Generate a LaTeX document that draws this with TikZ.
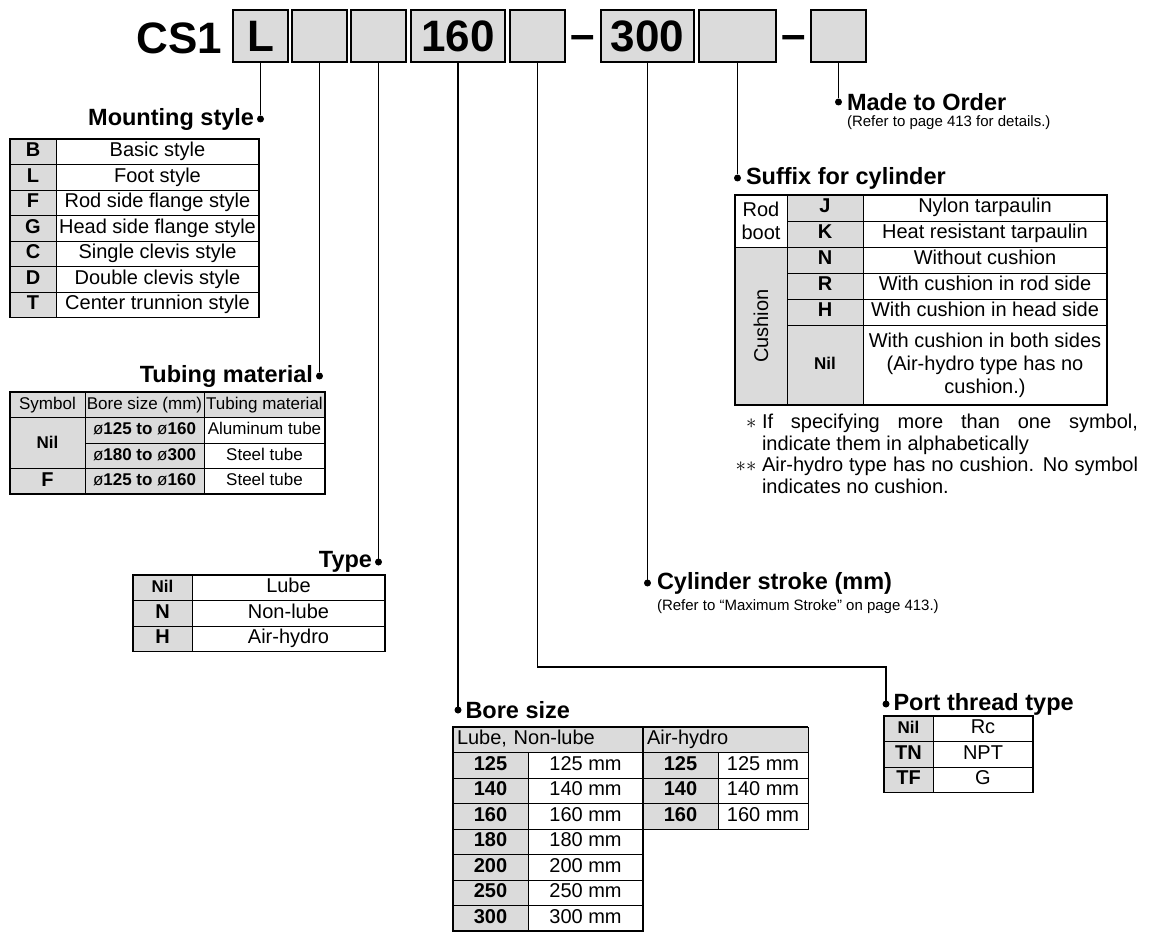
\documentclass[tikz,border=0pt]{standalone}
\usepackage{fontspec}
\usepackage{graphicx}
\setmainfont{Liberation Sans}
\usetikzlibrary{positioning}
\definecolor{cellgray}{gray}{0.86}
\newcommand{\diam}{{\mdseries\fontsize{17}{20}\selectfont ø}}

\begin{document}
\begin{tikzpicture}[x=1pt,y=-1pt,
    every node/.style={inner sep=0pt,outer sep=0pt},
    hbox/.style={draw,line width=1.8pt,fill=cellgray,minimum height=52pt,minimum width=55pt,font=\fontsize{44}{48}\selectfont\bfseries},
    title/.style={font=\fontsize{23.5}{26}\selectfont\bfseries},
    remark/.style={font=\fontsize{15}{18}\selectfont},
    notes/.style={font=\fontsize{20}{22}\selectfont,text width=376pt,align=justify},
    dot/.style={circle,fill,minimum size=7pt},
    leader/.style={line width=1.4pt},
    frame/.style={line width=1.6pt},
    cell/.style={draw,line width=0.8pt,minimum height=25.5pt,text height=14pt,text depth=4pt,font=\fontsize{20}{23}\selectfont},
    gcell/.style={cell,fill=cellgray,font=\fontsize{20}{23}\selectfont\bfseries},
    wcell/.style={cell,fill=white},
    nilcell/.style={gcell,font=\fontsize{17}{20}\selectfont\bfseries},
    multi/.style={text height={},text depth={},align=center},
    thead/.style={cell,fill=cellgray,text height=12pt,text depth=3.5pt,font=\fontsize{17}{20}\selectfont},
    tbore/.style={thead,font=\fontsize{17}{20}\selectfont\bfseries},
    tmat/.style={thead,fill=white},
    bhead/.style={cell,fill=cellgray,align=left,inner xsep=4pt}
]
\useasboundingbox (0,0) rectangle (1149,933);

\node[font=\fontsize{44}{48}\selectfont\bfseries,anchor=east] (cs) at (222,38) {CS1};
\node[hbox] (b1) at (260.5,36) {L};
\node[hbox] (b2) at (319.5,36) {};
\node[hbox] (b3) at (378.5,36) {};
\node[hbox,minimum width=94pt] (b4) at (458,36) {160};
\node[hbox] (b5) at (537.5,36) {};
\node[hbox,minimum width=93pt] (b6) at (647.5,36) {300};
\node[hbox,minimum width=77pt] (b7) at (737.5,36) {};
\node[hbox] (b8) at (838.5,36) {};
\path (b5.east) -- (b6.west) node[midway,yshift=-7pt,font=\fontsize{44}{48}\selectfont\bfseries] (d1) {–};
\path (b7.east) -- (b8.west) node[midway,yshift=-7pt,font=\fontsize{44}{48}\selectfont\bfseries] (d2) {–};

\node[dot] (pMount) at (260.5,119) {};
\node[dot] (pTube) at (319.5,376) {};
\node[dot] (pType) at (378.5,562) {};
\node[dot] (pBore) at (458,710) {};
\node[dot] (pPort) at (886,704) {};
\node[dot] (pStroke) at (647.5,583) {};
\node[dot] (pSuffix) at (737.5,178) {};
\node[dot] (pMade) at (838.5,102) {};
\coordinate (kPort) at (537.5,667);
\draw[leader] (b1) -- (pMount);
\draw[leader] (b2) -- (pTube);
\draw[leader] (b3) -- (pType);
\draw[leader] (b4) -- (pBore);
\draw[leader] (b5) -- (kPort) -| (pPort);
\draw[leader] (b6) -- (pStroke);
\draw[leader] (b7) -- (pSuffix);
\draw[leader] (b8) -- (pMade);

\node[title,left=3pt of pMount] (tMount) {Mounting style};
\node[title,left=3pt of pTube] (tTube) {Tubing material};
\node[title,left=3pt of pType] (tType) {Type};
\node[title,right=4pt of pBore] (tBore) {Bore size};
\node[title,right=4pt of pPort] (tPort) {Port thread type};
\node[title,right=6pt of pStroke] (tStroke) {Cylinder stroke (mm)};
\node[title,right=5pt of pSuffix] (tSuffix) {Suffix for cylinder};
\node[title,right=5pt of pMade] (tMade) {Made to Order};
\node[remark,below right=5pt and 0pt of tMade.south west] (nMade) {(Refer to page 413 for details.)};
\node[remark,below right=6pt and 0pt of tStroke.south west] (nStroke) {(Refer to “Maximum Stroke” on page 413.)};

\node[gcell,minimum width=46pt] (mB) at (33,151.75) {B};
\node[wcell,minimum width=203pt,right=0pt of mB] (tB) {Basic style};
\node[gcell,minimum width=46pt,below=0pt of mB] (mL) {L};
\node[wcell,minimum width=203pt,right=0pt of mL] (tL) {Foot style};
\node[gcell,minimum width=46pt,below=0pt of mL] (mF) {F};
\node[wcell,minimum width=203pt,right=0pt of mF] (tF) {Rod side flange style};
\node[gcell,minimum width=46pt,below=0pt of mF] (mG) {G};
\node[wcell,minimum width=203pt,right=0pt of mG] (tG) {Head side flange style};
\node[gcell,minimum width=46pt,below=0pt of mG] (mC) {C};
\node[wcell,minimum width=203pt,right=0pt of mC] (tC) {Single clevis style};
\node[gcell,minimum width=46pt,below=0pt of mC] (mD) {D};
\node[wcell,minimum width=203pt,right=0pt of mD] (tD) {Double clevis style};
\node[gcell,minimum width=46pt,below=0pt of mD] (mT) {T};
\node[wcell,minimum width=203pt,right=0pt of mT] (tT) {Center trunnion style};
\draw[frame] (mB.north west) rectangle (tT.south east);

\node[thead,minimum width=75pt] (hSym) at (47.5,404.75) {Symbol};
\node[thead,minimum width=119pt,right=0pt of hSym] (hBore) {Bore size (mm)};
\node[thead,minimum width=121pt,right=0pt of hBore] (hMat) {Tubing material};
\node[nilcell,minimum width=75pt,minimum height=51pt,below=0pt of hSym] (uNil) {Nil};
\node[tbore,minimum width=119pt,below=0pt of hBore] (uB1) {\diam125 to \diam160};
\node[tmat,minimum width=121pt,right=0pt of uB1] (uM1) {Aluminum tube};
\node[tbore,minimum width=119pt,below=0pt of uB1] (uB2) {\diam180 to \diam300};
\node[tmat,minimum width=121pt,right=0pt of uB2] (uM2) {Steel tube};
\node[gcell,minimum width=75pt,below=0pt of uNil] (uF) {F};
\node[tbore,minimum width=119pt,below=0pt of uB2] (uB3) {\diam125 to \diam160};
\node[tmat,minimum width=121pt,right=0pt of uB3] (uM3) {Steel tube};
\draw[frame] (hSym.north west) rectangle (uM3.south east);

\node[nilcell,minimum width=59pt] (yNil) at (162.5,587.75) {Nil};
\node[wcell,minimum width=193pt,right=0pt of yNil] (yLube) {Lube};
\node[gcell,minimum width=59pt,below=0pt of yNil] (yN) {N};
\node[wcell,minimum width=193pt,right=0pt of yN] (yNon) {Non-lube};
\node[gcell,minimum width=59pt,below=0pt of yN] (yH) {H};
\node[wcell,minimum width=193pt,right=0pt of yH] (yAir) {Air-hydro};
\draw[frame] (yNil.north west) rectangle (yAir.south east);

\node[bhead,text width=182pt] (hLube) at (548,739.75) {Lube,\ Non-lube};
\node[bhead,text width=157pt,right=0pt of hLube] (hAir) {Air-hydro};
\node[gcell,minimum width=75pt,anchor=north west] (l125) at (hLube.south west) {125};
\node[wcell,minimum width=115pt,right=0pt of l125] (l125t) {125 mm};
\node[gcell,minimum width=75pt,below=0pt of l125] (l140) {140};
\node[wcell,minimum width=115pt,right=0pt of l140] (l140t) {140 mm};
\node[gcell,minimum width=75pt,below=0pt of l140] (l160) {160};
\node[wcell,minimum width=115pt,right=0pt of l160] (l160t) {160 mm};
\node[gcell,minimum width=75pt,below=0pt of l160] (l180) {180};
\node[wcell,minimum width=115pt,right=0pt of l180] (l180t) {180 mm};
\node[gcell,minimum width=75pt,below=0pt of l180] (l200) {200};
\node[wcell,minimum width=115pt,right=0pt of l200] (l200t) {200 mm};
\node[gcell,minimum width=75pt,below=0pt of l200] (l250) {250};
\node[wcell,minimum width=115pt,right=0pt of l250] (l250t) {250 mm};
\node[gcell,minimum width=75pt,below=0pt of l250] (l300) {300};
\node[wcell,minimum width=115pt,right=0pt of l300] (l300t) {300 mm};
\node[gcell,minimum width=75pt,anchor=north west] (r125) at (hAir.south west) {125};
\node[wcell,minimum width=90pt,right=0pt of r125] (r125t) {125 mm};
\node[gcell,minimum width=75pt,below=0pt of r125] (r140) {140};
\node[wcell,minimum width=90pt,right=0pt of r140] (r140t) {140 mm};
\node[gcell,minimum width=75pt,below=0pt of r140] (r160) {160};
\node[wcell,minimum width=90pt,right=0pt of r160] (r160t) {160 mm};
\draw[frame] (hLube.north west) rectangle (l300t.south east);
\draw[frame] (hAir.north west) -- (hAir.north east);

\node[nilcell,minimum width=49pt] (oNil) at (908.5,728.75) {Nil};
\node[wcell,minimum width=100pt,right=0pt of oNil] (oRc) {Rc};
\node[gcell,minimum width=49pt,below=0pt of oNil] (oTN) {TN};
\node[wcell,minimum width=100pt,right=0pt of oTN] (oNPT) {NPT};
\node[gcell,minimum width=49pt,below=0pt of oTN] (oTF) {TF};
\node[wcell,minimum width=100pt,right=0pt of oTF] (oG) {G};
\draw[frame] (oNil.north west) rectangle (oG.south east);

\node[wcell,multi,minimum width=52pt,minimum height=52pt] (sRod) at (761,221) {Rod\\boot};
\node[gcell,multi,minimum width=52pt,minimum height=158pt,font=\fontsize{20}{23}\selectfont,below=0pt of sRod] (sCush) {\rotatebox{90}{Cushion}};
\node[gcell,minimum width=76pt,minimum height=26pt,anchor=north west] (sJ) at (sRod.north east) {J};
\node[wcell,minimum width=244pt,minimum height=26pt,right=0pt of sJ] (sJt) {Nylon tarpaulin};
\node[gcell,minimum width=76pt,minimum height=26pt,below=0pt of sJ] (sK) {K};
\node[wcell,minimum width=244pt,minimum height=26pt,right=0pt of sK] (sKt) {Heat resistant tarpaulin};
\node[gcell,minimum width=76pt,minimum height=26pt,below=0pt of sK] (sN) {N};
\node[wcell,minimum width=244pt,minimum height=26pt,right=0pt of sN] (sNt) {Without cushion};
\node[gcell,minimum width=76pt,minimum height=26pt,below=0pt of sN] (sR) {R};
\node[wcell,minimum width=244pt,minimum height=26pt,right=0pt of sR] (sRt) {With cushion in rod side};
\node[gcell,minimum width=76pt,minimum height=26pt,below=0pt of sR] (sH) {H};
\node[wcell,minimum width=244pt,minimum height=26pt,right=0pt of sH] (sHt) {With cushion in head side};
\node[nilcell,minimum width=76pt,minimum height=80pt,below=0pt of sH] (sNil) {Nil};
\node[wcell,multi,minimum width=244pt,minimum height=80pt,right=0pt of sNil] (sNilt) {With cushion in both sides\\(Air-hydro type has no\\cushion.)};
\draw[frame] (sRod.north west) rectangle (sNilt.south east);

\node[notes,anchor=north west] (nOne) at (762,414) {\llap{$\ast$\ }If specifying more than one symbol,\linebreak indicate them in alphabetically};
\node[notes,anchor=north west] (nTwo) at (762,457) {\llap{$\ast\ast$\ }Air-hydro type has no cushion. No symbol indicates no cushion.};
\end{tikzpicture}
\end{document}
